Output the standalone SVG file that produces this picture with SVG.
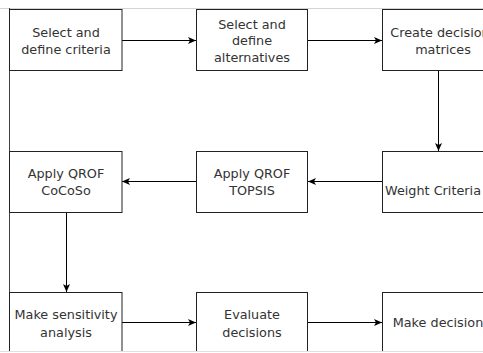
<svg xmlns="http://www.w3.org/2000/svg" width="483" height="353" viewBox="0 0 483 353">
<defs>
<style>
.box{fill:#fff;stroke:#222;stroke-width:1}
.lbl{font-family:"DejaVu Sans",Verdana,sans-serif;font-size:12.8px;fill:#333;text-anchor:middle}
.edge{fill:none;stroke:#000;stroke-width:1}
</style>
<marker id="ah" viewBox="0 0 8 8" refX="8" refY="4" markerWidth="8" markerHeight="8" markerUnits="userSpaceOnUse" orient="auto">
<path d="M0,0.5 L8,4 L0,7.5 L2,4 Z" fill="#000"/>
</marker>
</defs>
<rect x="0" y="0" width="483" height="353" fill="#fff"/>
<line x1="0" y1="8.5" x2="483" y2="8.5" stroke="#d4d4d4"/>
<line x1="9.5" y1="8" x2="9.5" y2="351" stroke="#444"/>

<g id="edges">
<line class="edge" x1="122" y1="40.5" x2="196" y2="40.5" marker-end="url(#ah)"/>
<line class="edge" x1="308" y1="40.5" x2="382" y2="40.5" marker-end="url(#ah)"/>
<line class="edge" x1="438.5" y1="70" x2="438.5" y2="151" marker-end="url(#ah)"/>
<line class="edge" x1="382" y1="181.5" x2="308" y2="181.5" marker-end="url(#ah)"/>
<line class="edge" x1="196" y1="181.5" x2="122" y2="181.5" marker-end="url(#ah)"/>
<line class="edge" x1="66.5" y1="212" x2="66.5" y2="292" marker-end="url(#ah)"/>
<line class="edge" x1="122" y1="322.5" x2="196" y2="322.5" marker-end="url(#ah)"/>
<line class="edge" x1="308" y1="322.5" x2="382" y2="322.5" marker-end="url(#ah)"/>
</g>

<g id="n1"><rect class="box" x="9.5" y="9.5" width="112.5" height="61"/>
<text class="lbl" x="66" y="37">Select and</text><text class="lbl" x="66" y="53.5">define criteria</text></g>
<g id="n2"><rect class="box" x="196.5" y="9.5" width="111" height="61"/>
<text class="lbl" x="252" y="28.5">Select and</text><text class="lbl" x="252" y="45">define</text><text class="lbl" x="252" y="61.5">alternatives</text></g>
<g id="n3"><rect class="box" x="382.5" y="9.5" width="112" height="61"/>
<text class="lbl" x="440" y="37">Create decision</text><text class="lbl" x="443" y="53.5">matrices</text></g>

<g id="n4"><rect class="box" x="9.5" y="151.5" width="112.5" height="61"/>
<text class="lbl" x="66" y="177.5">Apply QROF</text><text class="lbl" x="66" y="195">CoCoSo</text></g>
<g id="n5"><rect class="box" x="196.5" y="151.5" width="111" height="61"/>
<text class="lbl" x="252" y="177.5">Apply QROF</text><text class="lbl" x="252" y="195">TOPSIS</text></g>
<g id="n6"><rect class="box" x="382.5" y="151.5" width="112" height="61"/>
<text class="lbl" x="433" y="195">Weight Criteria</text></g>

<g id="n7"><rect class="box" x="9.5" y="292.5" width="112.5" height="61"/>
<text class="lbl" x="66" y="319">Make sensitivity</text><text class="lbl" x="66" y="336.5">analysis</text></g>
<g id="n8"><rect class="box" x="196.5" y="292.5" width="111" height="61"/>
<text class="lbl" x="252" y="319">Evaluate</text><text class="lbl" x="252" y="336.5">decisions</text></g>
<g id="n9"><rect class="box" x="382.5" y="292.5" width="112" height="61"/>
<text class="lbl" x="438" y="327">Make decision</text></g>

<rect x="0" y="351" width="483" height="2" fill="#fff"/>
<line x1="0" y1="351.5" x2="483" y2="351.5" stroke="#e0e0e0"/>
</svg>
